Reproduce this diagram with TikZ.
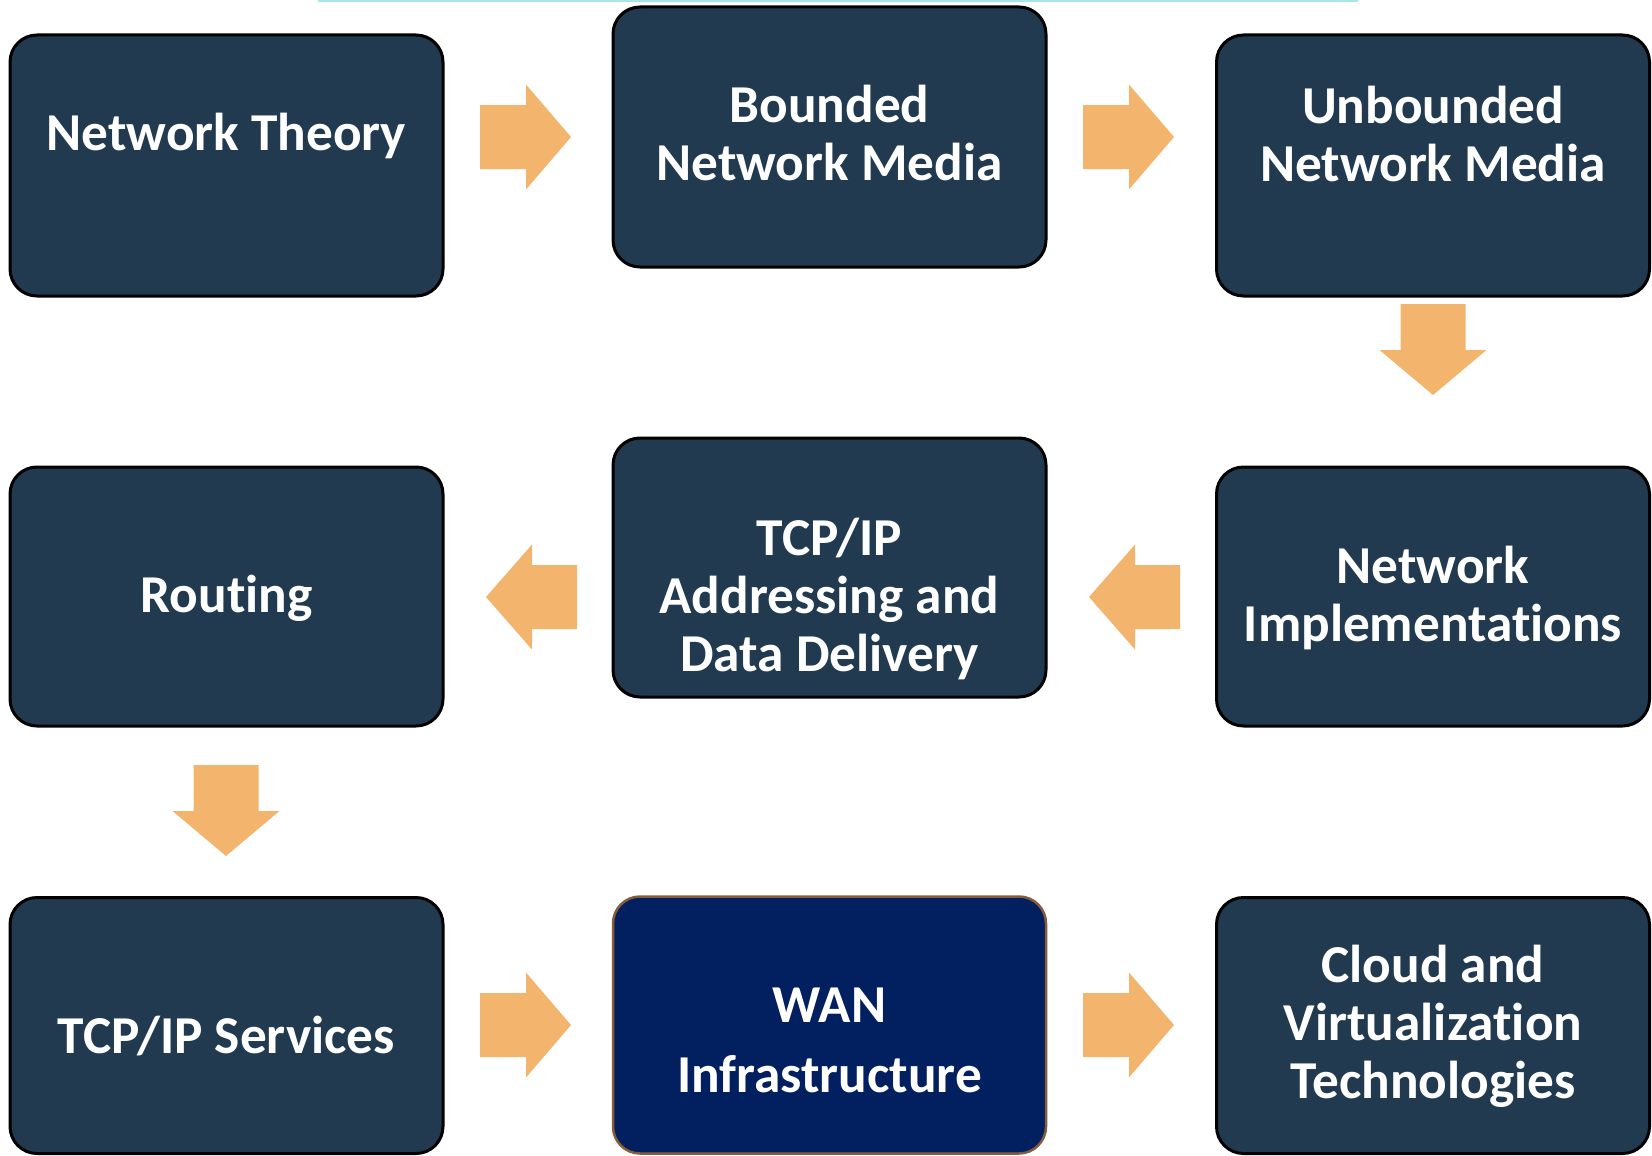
\documentclass[tikz,border=0pt]{standalone}
\usepackage{fontspec}
\setmainfont{Carlito}[Ligatures=NoCommon]
\definecolor{boxfill}{HTML}{213A50}
\definecolor{wanfill}{HTML}{022060}
\definecolor{wanedge}{HTML}{845C3C}
\definecolor{arrowfill}{HTML}{F3B56D}
\definecolor{topline}{HTML}{A8E4EA}
\newcommand\mlines[2]{\vtop{\baselineskip=#1\relax\lineskiplimit=-100pt\halign{\hfil##\hfil\cr#2\crcr}}}
\tikzset{
  pics/arrowR/.style={code={\fill[arrowfill] (0,-32) -- (46,-32) -- (46,-52.5) -- (91,0) -- (46,52.5) -- (46,32) -- (0,32) -- cycle;}},
  pics/arrowL/.style={code={\fill[arrowfill] (0,-32) -- (-45,-32) -- (-45,-52.5) -- (-91,0) -- (-45,52.5) -- (-45,32) -- (0,32) -- cycle;}},
  pics/arrowD/.style={code={\fill[arrowfill] (-32.5,0) -- (-32.5,46) -- (-53.5,46) -- (0,91) -- (53.5,46) -- (32.5,46) -- (32.5,0) -- cycle;}}
}
\begin{document}
\begin{tikzpicture}[x=1pt,y=-1pt,
  box/.style={draw=black, line width=3pt, fill=boxfill, rounded corners=27pt,
    inner sep=0pt, minimum width=433pt, minimum height=260pt},
  wanbox/.style={box, draw=wanedge, line width=2.5pt, fill=wanfill},
  boxtext/.style={text=white, font=\fontsize{53.3}{58}\selectfont\bfseries,
    inner sep=0pt, anchor=base}]
\useasboundingbox (0,0) rectangle (1652,1156);
% thin line at the top
\coordinate (lineL) at (318,1);
\coordinate (lineR) at (1358,1);
\draw[topline, line width=2pt] (lineL) -- (lineR);
% boxes
\node[box, minimum height=261pt] (A) at (226.5,165.5) {};
\node[box] (B) at (829.5,137) {};
\node[box, minimum height=261pt] (C) at (1433,165.5) {};
\node[box, minimum height=259pt] (R) at (226.5,596.5) {};
\node[box, minimum height=259pt] (T) at (829.5,567.5) {};
\node[box, minimum height=259pt] (I) at (1433,596.5) {};
\node[box, minimum height=256pt] (S) at (226.5,1025.5) {};
\node[wanbox, minimum height=257pt] (W) at (829.5,1025) {};
\node[box, minimum height=256pt] (Cl) at (1433,1025.5) {};
% texts
\node[boxtext] (tA) at (226.5,150) {Network Theory};
\node[boxtext] (tB) at (829.5,122) {\mlines{58pt}{Bounded\cr Network Media}};
\node[boxtext] (tC) at (1433,123) {\mlines{58pt}{Unbounded\cr Network Media}};
\node[boxtext] (tR) at (226.5,612) {Routing};
\node[boxtext] (tT) at (829.5,555) {\mlines{58pt}{TCP/IP\cr Addressing and\cr Data Delivery}};
\node[boxtext] (tI) at (1433,583) {\mlines{58pt}{Network\cr Implementations}};
\node[boxtext] (tS) at (226.5,1053) {TCP/IP Services};
\node[boxtext] (tW) at (829.5,1022) {\mlines{70pt}{WAN\cr Infrastructure}};
\node[boxtext] (tCl) at (1433,982) {\mlines{58pt}{Cloud and\cr Virtualization\cr Technologies}};
% block arrows
\pic at (480,137) {arrowR};
\pic at (1083,137) {arrowR};
\pic at (1433,304) {arrowD};
\pic at (1180,597) {arrowL};
\pic at (577,597) {arrowL};
\pic at (226,765) {arrowD};
\pic at (480,1025) {arrowR};
\pic at (1083,1025) {arrowR};
\end{tikzpicture}
\end{document}
